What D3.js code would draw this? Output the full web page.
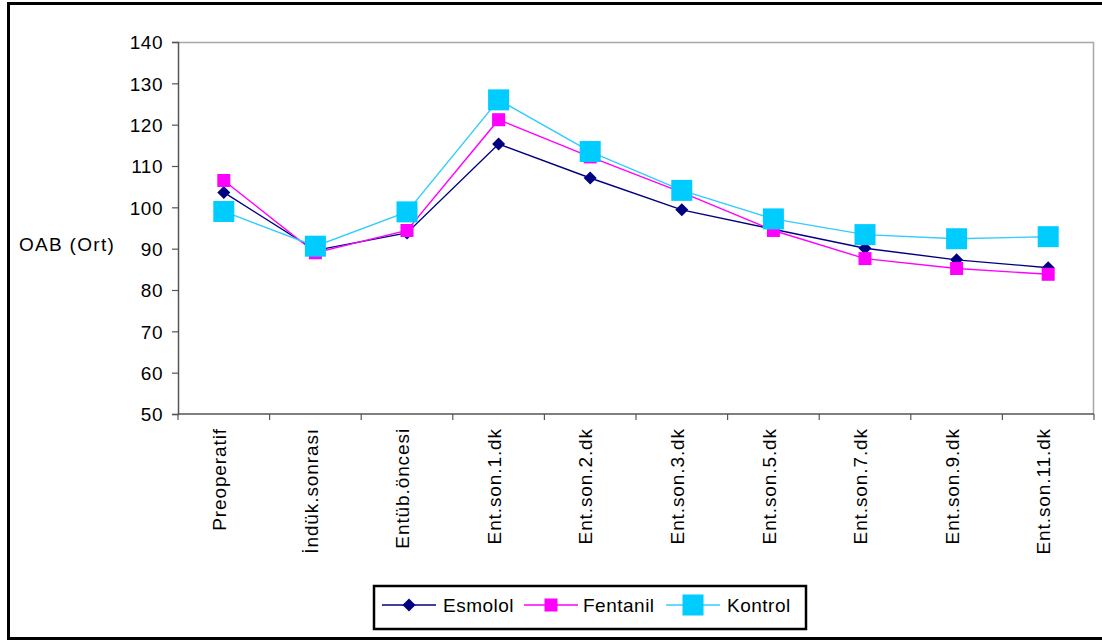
<!DOCTYPE html>
<html>
<head>
<meta charset="utf-8">
<script src="https://cdn.jsdelivr.net/npm/d3@7"></script>
<style>
  html, body { margin: 0; padding: 0; background: #fff; }
  svg { display: block; }
  text { font-family: "Liberation Sans", Arial, sans-serif; font-size: 19px; fill: #000; letter-spacing: 0.5px; }
  text.cat { letter-spacing: 0.9px; }
  text.ytitle { letter-spacing: 1.3px; }
</style>
</head>
<body>
<svg id="chart" width="1102" height="641"></svg>
<script>
// Mean arterial pressure (OAB) by measurement time, three groups
const categories = ["Preoperatif", "İndük.sonrası", "Entüb.öncesi", "Ent.son.1.dk", "Ent.son.2.dk",
                    "Ent.son.3.dk", "Ent.son.5.dk", "Ent.son.7.dk", "Ent.son.9.dk", "Ent.son.11.dk"];
const esmolol  = [103.6, 89.6, 93.8, 115.3, 107.1, 99.4, 94.7, 90.1, 87.3, 85.4];
const fentanil = [106.5, 89.0, 94.4, 121.2, 112.2, 103.6, 94.4, 87.6, 85.2, 83.8];
const kontrol  = [99.0, 90.6, 98.9, 126.0, 113.5, 104.1, 97.2, 93.4, 92.4, 92.9];
const yTicks   = [50, 60, 70, 80, 90, 100, 110, 120, 130, 140];
const seriesNames = ["Esmolol", "Fentanil", "Kontrol"];

const svg = d3.select("#chart");
const W = 1102, H = 641;
const plot = { left: 178, right: 1094, top: 42, bottom: 414 };

// outer frame
svg.append("rect").attr("x", 0).attr("y", 0).attr("width", W).attr("height", H).attr("fill", "#fff");
svg.append("rect").attr("x", 8.5).attr("y", 3.5).attr("width", W + 10).attr("height", 635)
  .attr("fill", "none").attr("stroke", "#000").attr("stroke-width", 3);

const x = d3.scaleBand().domain(categories).range([plot.left, plot.right]);
const y = d3.scaleLinear().domain([50, 140]).range([plot.bottom, plot.top]);
const cx = d => x(d) + x.bandwidth() / 2;

// plot area border (top / right)
svg.append("path")
  .attr("d", `M${plot.left},${plot.top + 0.5}H${plot.right - 0.5}V${plot.bottom}`)
  .attr("fill", "none").attr("stroke", "#a8a8a8").attr("stroke-width", 1.5);

// y axis
const yAxis = svg.append("g").attr("transform", `translate(${plot.left},0)`)
  .call(d3.axisLeft(y).tickValues(yTicks).tickSize(6).tickPadding(9).tickFormat(d3.format("d")));
yAxis.select(".domain").attr("stroke", "#555").attr("stroke-width", 1.5);
yAxis.selectAll(".tick line").attr("stroke", "#555").attr("stroke-width", 1.2);
yAxis.selectAll(".tick text").attr("dy", "0.36em");
yAxis.attr("font-size", null).attr("font-family", null);

// x axis: ticks between categories
const xAxisG = svg.append("g").attr("transform", `translate(0,${plot.bottom})`);
xAxisG.append("line").attr("x1", plot.left).attr("x2", plot.right)
  .attr("stroke", "#555").attr("stroke-width", 1.5);
xAxisG.selectAll("line.sep").data(d3.range(categories.length + 1)).join("line")
  .attr("class", "sep")
  .attr("x1", i => plot.left + i * x.bandwidth()).attr("x2", i => plot.left + i * x.bandwidth())
  .attr("y1", 0).attr("y2", 6).attr("stroke", "#555").attr("stroke-width", 1.2);
xAxisG.selectAll("text.cat").data(categories).join("text")
  .attr("class", "cat")
  .attr("transform", d => `translate(${cx(d)},14) rotate(-90)`)
  .attr("text-anchor", "end").attr("dy", "0.12em")
  .text(d => d);

// y axis title
svg.append("text").attr("class", "ytitle").attr("x", 19).attr("y", 251).text("OAB (Ort)");

// series
const series = [
  { name: seriesNames[0], values: esmolol,  line: "#000080", fill: "#000080", shape: "diamond", size: 6.5 },
  { name: seriesNames[1], values: fentanil, line: "#ff00ff", fill: "#ff00ff", shape: "square",  size: 6.5 },
  { name: seriesNames[2], values: kontrol,  line: "#33ccff", fill: "#00ccff", shape: "square",  size: 10.5 }
];

const lineGen = d3.line().x((v, i) => cx(categories[i])).y(v => y(v));

function marker(g, shape, s, fill) {
  if (shape === "diamond") {
    g.append("path").attr("d", `M0,${-s}L${s},0L0,${s}L${-s},0Z`).attr("fill", fill);
  } else {
    g.append("rect").attr("x", -s).attr("y", -s).attr("width", 2 * s).attr("height", 2 * s).attr("fill", fill);
  }
}

series.forEach(s => {
  const g = svg.append("g");
  g.append("path").datum(s.values).attr("d", lineGen)
    .attr("fill", "none").attr("stroke", s.line).attr("stroke-width", 1.4);
  s.values.forEach((v, i) => {
    const m = g.append("g").attr("transform", `translate(${cx(categories[i])},${y(v)})`);
    marker(m, s.shape, s.size, s.fill);
  });
});

// legend
const lg = svg.append("g");
lg.append("rect").attr("x", 374).attr("y", 586).attr("width", 432).attr("height", 43)
  .attr("fill", "#fff").attr("stroke", "#000").attr("stroke-width", 2.5);
const legendPos = [ { x0: 382, tx: 443 }, { x0: 524, tx: 583 }, { x0: 666, tx: 727 } ];
series.forEach((s, i) => {
  const p = legendPos[i], ly = 605;
  lg.append("line").attr("x1", p.x0).attr("x2", p.x0 + 54).attr("y1", ly).attr("y2", ly)
    .attr("stroke", s.line).attr("stroke-width", 1.4);
  const m = lg.append("g").attr("transform", `translate(${p.x0 + 27},${ly})`);
  marker(m, s.shape, s.size, s.fill);
  lg.append("text").attr("x", p.tx).attr("y", ly).attr("dy", "0.36em").text(s.name);
});
</script>
</body>
</html>
